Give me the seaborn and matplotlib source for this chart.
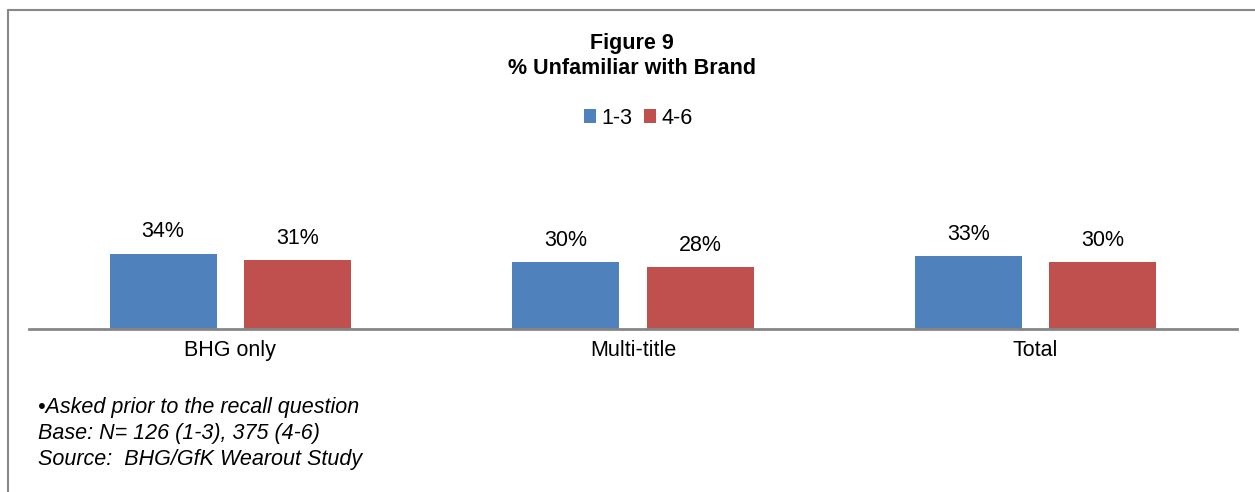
import matplotlib
matplotlib.use("Agg")
import matplotlib.pyplot as plt
from matplotlib.lines import Line2D
from matplotlib.patches import Patch
import seaborn as sns
import pandas as pd

categories = ["BHG only", "Multi-title", "Total"]
series_names = ["1-3", "4-6"]
values_13 = [34, 30, 33]
values_46 = [31, 28, 30]
colors = ["#4F81BD", "#C0504D"]

df = pd.DataFrame({
    "category": categories * 2,
    "group": [series_names[0]] * 3 + [series_names[1]] * 3,
    "value": values_13 + values_46,
})

sns.set_theme(style="white")
plt.rcParams["font.family"] = ["Liberation Sans", "DejaVu Sans"]
plt.rcParams["text.color"] = "black"

FS = 15.5
W, H = 1255, 492
fig = plt.figure(figsize=(W / 100, H / 100), dpi=100)
# axes in pixel coords: left 29, right 1237, baseline y=329, top y=107
ax = fig.add_axes([29 / W, (H - 329) / H, (1237 - 29) / W, (329 - 107) / H])

sns.barplot(data=df, x="category", y="value", hue="group", order=categories,
            hue_order=series_names, palette=colors, width=0.668, gap=0.205,
            saturation=1, legend=False, ax=ax, edgecolor="none")

ax.set_ylim(0, 100)
ax.set_xlim(-0.5, 2.5)
for s in ["top", "right", "left"]:
    ax.spines[s].set_visible(False)
ax.spines["bottom"].set_color("#868686")
ax.spines["bottom"].set_linewidth(2)
ax.set_yticks([])
ax.set_xlabel("")
ax.set_ylabel("")
ax.tick_params(axis="x", length=0, pad=8, labelsize=FS, colors="black")

for cont in ax.containers:
    ax.bar_label(cont, labels=[f"{int(v)}%" for v in cont.datavalues],
                 padding=8, fontsize=FS, color="black")

# Titles
fig.text(632 / W, 1 - 44 / H, "Figure 9", ha="center", va="center",
         fontsize=FS, fontweight="bold", color="black")
fig.text(632 / W, 1 - 68 / H, "% Unfamiliar with Brand", ha="center",
         va="center", fontsize=FS, fontweight="bold", color="black")

# Legend
handles = [Patch(facecolor=c, edgecolor="none") for c in colors]
leg = fig.legend(handles, series_names, loc="center", bbox_to_anchor=(638.5 / W, 1 - 118 / H),
                 ncol=2, frameon=False, fontsize=FS, handlelength=0.55, handleheight=0.65,
                 handletextpad=0.25, columnspacing=0.55)
for t in leg.get_texts():
    t.set_color("black")

# Footnotes
notes = ["\u2022Asked prior to the recall question",
         "Base: N= 126 (1-3), 375 (4-6)",
         "Source:  BHG/GfK Wearout Study"]
for i, t in enumerate(notes):
    fig.text(38 / W, 1 - (408 + 26 * i) / H, t, ha="left", va="center",
             fontsize=FS, style="italic", color="black")

# Frame lines
fig.add_artist(Line2D([8 / W, 1], [1 - 10 / H, 1 - 10 / H], color="#888888", lw=1.5,
                      transform=fig.transFigure))
fig.add_artist(Line2D([8 / W, 8 / W], [1 - 10 / H, 0], color="#888888", lw=1.5,
                      transform=fig.transFigure))

fig.savefig("out.png", dpi=100, facecolor="white")
